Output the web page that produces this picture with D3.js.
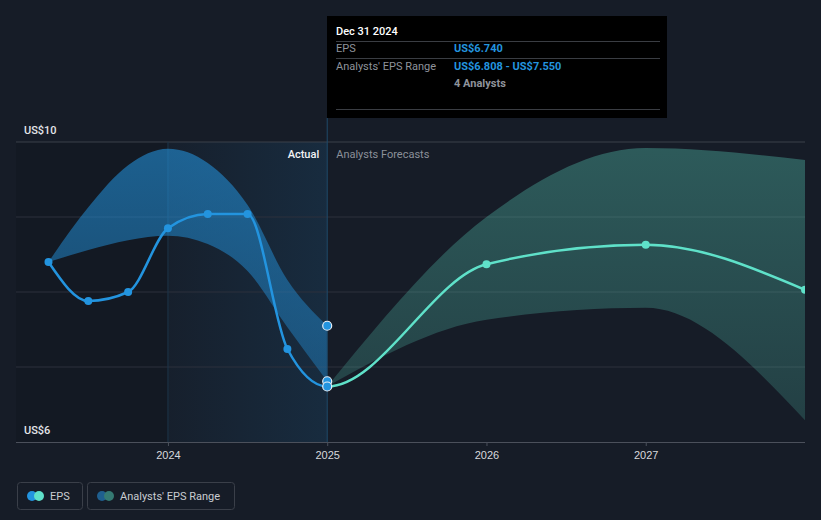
<!DOCTYPE html>
<html>
<head>
    <title>EPS vs Analysts' Forecasts</title>
    <script src="https://d3js.org/d3.v7.min.js"></script>
    <style>
        body { margin: 0; background: #161c27; }
        svg { display: block; font-family: Roboto, "Noto Sans", sans-serif; }
    </style>
</head>
<body>
    <div id="chart"></div>

    <script>
        // values (US$ per share, decimal years)
        const actualDates = [2023.25, 2023.5, 2023.75, 2024, 2024.25, 2024.5, 2024.75, 2025];
        const actualEps = [8.40, 7.88, 8.00, 8.85, 9.04, 9.04, 7.24, 6.74];
        const pastRangeLow = [8.40, 8.56, 8.69, 8.75, 8.64, 8.28, 7.53, 6.81];
        const pastRangeHigh = [8.40, 9.13, 9.69, 9.91, 9.72, 9.16, 8.16, 7.55];

        const forecastDates = [2025, 2026, 2027, 2028];
        const forecastEps = [6.74, 8.37, 8.63, 8.03];
        const forecastLow = [6.74, 7.63, 7.79, 6.29];
        const forecastHigh = [6.74, 9.00, 9.92, 9.76];

        const yearTicks = [2024, 2025, 2026, 2027];
        const priceTicks = [6, 7, 8, 9, 10];

        const width = 821, height = 520;
        const blue = "#2394df", teal = "#5fe1c9";

        const svg = d3.select("#chart").append("svg")
            .attr("width", width)
            .attr("height", height);

        const x = d3.scaleLinear().domain([2023.046, 2028]).range([16, 805]);
        const y = d3.scaleLinear().domain([6, 10]).range([442, 142]);
        const now = 2025;

        const defs = svg.append("defs");
        defs.append("clipPath").attr("id", "plot")
            .append("rect").attr("x", 16).attr("y", 0).attr("width", 789).attr("height", 442);
        defs.append("clipPath").attr("id", "past")
            .append("rect").attr("x", 0).attr("y", 0).attr("width", x(now)).attr("height", 442);
        defs.append("clipPath").attr("id", "future")
            .append("rect").attr("x", x(now)).attr("y", 0).attr("width", 805 - x(now)).attr("height", 442);

        const shade = defs.append("linearGradient").attr("id", "shade");
        shade.append("stop").attr("offset", 0).attr("stop-color", blue).attr("stop-opacity", 0.03);
        shade.append("stop").attr("offset", 1).attr("stop-color", blue).attr("stop-opacity", 0.13);

        function vGrad(id, color, top, bottom) {
            const g = defs.append("linearGradient").attr("id", id)
                .attr("gradientUnits", "userSpaceOnUse")
                .attr("x1", 0).attr("x2", 0).attr("y1", y(10)).attr("y2", y(6));
            g.append("stop").attr("offset", 0).attr("stop-color", color).attr("stop-opacity", top);
            g.append("stop").attr("offset", 1).attr("stop-color", color).attr("stop-opacity", bottom);
        }
        vGrad("blueBand", blue, 0.58, 0.32);
        vGrad("tealBand", teal, 0.32, 0.17);

        // background of the past period
        svg.append("rect")
            .attr("x", 16).attr("y", y(10)).attr("width", x(2024) - 16).attr("height", y(6) - y(10))
            .attr("fill", "#000").attr("opacity", 0.1);
        svg.append("rect")
            .attr("x", x(2024)).attr("y", y(10)).attr("width", x(now) - x(2024)).attr("height", y(6) - y(10))
            .attr("fill", "url(#shade)");

        // grid
        svg.append("g").selectAll("line")
            .data(priceTicks.slice(1))
            .join("line")
            .attr("x1", 16).attr("x2", 805)
            .attr("y1", d => y(d)).attr("y2", d => y(d))
            .attr("stroke", d => d === 10 ? "#3b404b" : "#2c313c")
            .attr("stroke-width", 1);

        svg.append("line")
            .attr("x1", x(2024)).attr("x2", x(2024))
            .attr("y1", y(10)).attr("y2", y(6))
            .attr("stroke", "#1d3549").attr("stroke-width", 1);

        // x axis
        const xAxis = svg.append("g")
            .attr("transform", "translate(0," + y(6) + ")")
            .call(d3.axisBottom(x).tickValues(yearTicks).tickFormat(d3.format("d")).tickSize(4).tickPadding(5));
        xAxis.select(".domain").attr("d", "M16,0.5H805").attr("stroke", "#4b505b");
        xAxis.selectAll(".tick line").attr("stroke", "#4b505b");
        xAxis.selectAll("text").attr("fill", "#d6d8dc").attr("font-size", 11).attr("font-weight", 500);

        // y labels
        svg.append("g").selectAll("text")
            .data([10, 6])
            .join("text")
            .attr("x", 24)
            .attr("y", d => y(d) - 8)
            .attr("fill", "#e4e6ea")
            .attr("font-size", 11)
            .attr("font-weight", 500)
            .text(d => "US$" + d);

        const plot = svg.append("g").attr("clip-path", "url(#plot)");

        // bands
        const area = d3.area()
            .x(d => x(d[0]))
            .y0(d => y(d[1]))
            .y1(d => y(d[2]))
            .curve(d3.curveMonotoneX);

        plot.append("path")
            .datum(actualDates.map((d, i) => [d, pastRangeLow[i], pastRangeHigh[i]]))
            .attr("d", area)
            .attr("fill", "url(#blueBand)");

        plot.append("path")
            .datum(forecastDates.map((d, i) => [d, forecastLow[i], forecastHigh[i]]))
            .attr("d", area)
            .attr("fill", "url(#tealBand)");

        // now line
        svg.append("line")
            .attr("x1", x(now)).attr("x2", x(now))
            .attr("y1", 118).attr("y2", y(6))
            .attr("stroke", "#1f4a6a").attr("stroke-width", 1);

        // EPS line: one smooth curve, coloured by period
        const lineDates = actualDates.concat(forecastDates.slice(1));
        const lineEps = actualEps.concat(forecastEps.slice(1));
        const pts = lineDates.map((d, i) => [d, lineEps[i]]);
        const line = d3.line().x(d => x(d[0])).y(d => y(d[1])).curve(d3.curveMonotoneX);

        plot.append("g").attr("clip-path", "url(#past)")
            .append("path").datum(pts).attr("d", line)
            .attr("fill", "none").attr("stroke", blue).attr("stroke-width", 2.5);
        plot.append("g").attr("clip-path", "url(#future)")
            .append("path").datum(pts).attr("d", line)
            .attr("fill", "none").attr("stroke", teal).attr("stroke-width", 2.5);

        plot.append("g").selectAll("circle")
            .data(actualDates.slice(0, -1))
            .join("circle")
            .attr("cx", d => x(d))
            .attr("cy", (d, i) => y(actualEps[i]))
            .attr("r", 4)
            .attr("fill", blue);

        plot.append("g").selectAll("circle")
            .data(forecastDates.slice(1))
            .join("circle")
            .attr("cx", d => x(d))
            .attr("cy", (d, i) => y(forecastEps[i + 1]))
            .attr("r", 4)
            .attr("fill", teal);

        // hover markers at the selected date
        const last = actualDates.length - 1;
        svg.append("g").selectAll("circle")
            .data([pastRangeHigh[last], pastRangeLow[last], actualEps[last]])
            .join("circle")
            .attr("cx", x(now))
            .attr("cy", d => y(d))
            .attr("r", 4.5)
            .attr("fill", blue)
            .attr("stroke", "#e8eef5")
            .attr("stroke-width", 1.2);

        // period labels
        svg.append("text")
            .attr("x", x(now) - 8).attr("y", 158)
            .attr("text-anchor", "end")
            .attr("fill", "#f2f3f5").attr("font-size", 11).attr("font-weight", 500)
            .text("Actual");
        svg.append("text")
            .attr("x", x(now) + 9).attr("y", 158)
            .attr("fill", "#8b9099").attr("font-size", 11)
            .text("Analysts Forecasts");

        // tooltip
        const tip = svg.append("g");
        tip.append("rect")
            .attr("x", 327).attr("y", 16).attr("width", 340).attr("height", 102)
            .attr("fill", "#000");
        tip.selectAll("line")
            .data([41, 58, 109])
            .join("line")
            .attr("x1", 336).attr("x2", 660)
            .attr("y1", d => d + 0.5).attr("y2", d => d + 0.5)
            .attr("stroke", "#3a3d43");
        tip.append("text").attr("x", 336).attr("y", 35)
            .attr("fill", "#fff").attr("font-size", 11).attr("font-weight", 500)
            .text("Dec 31 2024");
        tip.append("text").attr("x", 336).attr("y", 52)
            .attr("fill", "#8f939b").attr("font-size", 11).text("EPS");
        tip.append("text").attr("x", 454).attr("y", 52)
            .attr("fill", blue).attr("font-size", 11).attr("font-weight", 700)
            .text("US$" + actualEps[last].toFixed(3));
        tip.append("text").attr("x", 336).attr("y", 70)
            .attr("fill", "#8f939b").attr("font-size", 11).text("Analysts' EPS Range");
        tip.append("text").attr("x", 454).attr("y", 70)
            .attr("fill", blue).attr("font-size", 11).attr("font-weight", 700)
            .text("US$6.808 - US$7.550");
        tip.append("text").attr("x", 454).attr("y", 87)
            .attr("fill", "#8f939b").attr("font-size", 11).attr("font-weight", 700)
            .text("4 Analysts");

        // legend
        const legendItems = [
            { label: "EPS", x: 17, w: 65, c1: blue, c2: teal },
            { label: "Analysts' EPS Range", x: 87, w: 147, c1: "#1f5f8f", c2: "#357a73" }
        ];
        const lg = svg.append("g").selectAll("g")
            .data(legendItems)
            .join("g")
            .attr("transform", d => "translate(" + d.x + ",482)");
        lg.append("rect")
            .attr("x", 0.5).attr("y", 0.5).attr("width", d => d.w).attr("height", 27)
            .attr("rx", 3)
            .attr("fill", "none").attr("stroke", "#3a3f49");
        lg.append("circle").attr("cx", 15).attr("cy", 14).attr("r", 5).attr("fill", d => d.c1);
        lg.append("circle").attr("cx", 22).attr("cy", 14).attr("r", 5).attr("fill", d => d.c2);
        lg.append("text")
            .attr("x", 33).attr("y", 18)
            .attr("fill", "#c9ccd1").attr("font-size", 11)
            .text(d => d.label);
    </script>
</body>
</html>
